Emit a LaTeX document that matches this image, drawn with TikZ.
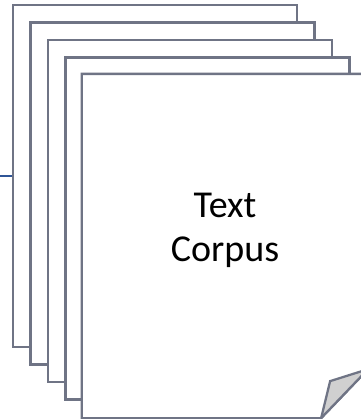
\documentclass[tikz,border=0pt]{standalone}
\usepackage{fontspec}
\setmainfont{Carlito}
\usetikzlibrary{calc}
\definecolor{pageline}{HTML}{6F7485}
\definecolor{feedblue}{HTML}{2F5597}
\definecolor{foldfill}{HTML}{D0D0D0}

\begin{document}
\begin{tikzpicture}[
  x=0.75pt, y=0.75pt,
  page/.style  = {draw=pageline, line width=1.7pt, fill=white, inner sep=0pt,
                  minimum width=213pt, minimum height=256.5pt},
  front/.style = {page, draw=none},
  edge/.style  = {draw=pageline, line width=1.7pt, line join=miter},
  flap/.style  = {edge, fill=foldfill},
  feed/.style  = {draw=feedblue, line width=1.6pt},
  lbl/.style   = {font=\fontsize{28.5}{33}\selectfont, align=center, inner sep=0pt},
]
\useasboundingbox (0,0) rectangle (361,419);
\clip (0,0) rectangle (361,419);

% --- the stack of pages, back to front -----------------------------------------------------------
\node[page] (page1) at (155,243) {};
\node[page] (page2) at ($(page1)+(17.5,-17.5)$) {};
\node[page] (page3) at ($(page2)+(17.5,-17.5)$) {};
\node[page] (page4) at ($(page3)+(17.5,-17.5)$) {};
\node[front] (page5) at ($(page4)+(17.5,-17.5)$) {};

% --- the front page, with its folded corner ------------------------------------------------------
\coordinate (foldbot) at ($(page5.south east)+(-47,0)$);
\coordinate (foldtop) at ($(page5.south east)+(0,49)$);
\coordinate (foldtip) at ($(page5.south east)+(-38,37)$);
\draw[edge] (foldtop) -- (page5.north east) -- (page5.north west)
            -- (page5.south west) -- (foldbot) -- cycle;
\draw[flap] (foldbot) -- (foldtip) -- (foldtop) -- cycle;

\node[lbl] (corpus) at ($(page5)+(0,16)$) {Text\\Corpus};

% --- the line coming in from the left ------------------------------------------------------------
\coordinate (feedin) at (0,243);
\draw[feed] (feedin) -- (page1.west);

\end{tikzpicture}
\end{document}
